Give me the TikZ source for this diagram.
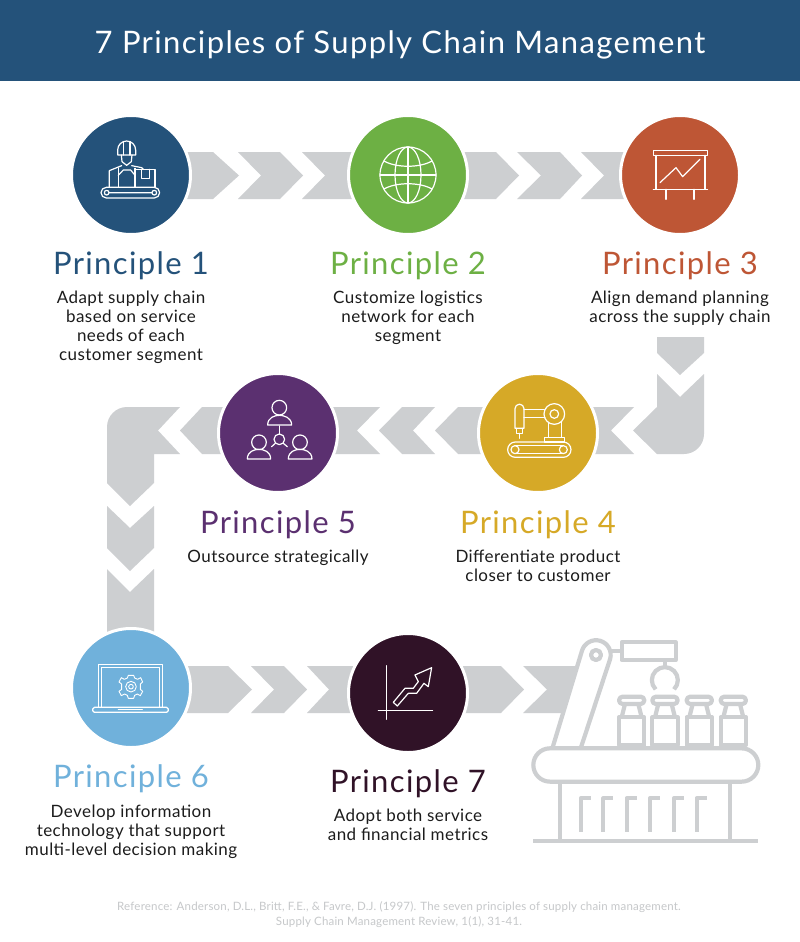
\documentclass[tikz,border=0pt]{standalone}
\usepackage{fontspec}
\setmainfont{Lato}
\newfontfamily\headfont[LetterSpace=4.4]{Lato}
\newfontfamily\bodyfont[LetterSpace=2.6]{Lato}
\newfontfamily\reffont[LetterSpace=1.7]{Lato}
\definecolor{cband}{HTML}{24527A}
\definecolor{cgreen}{HTML}{6DB044}
\definecolor{corange}{HTML}{BE5635}
\definecolor{cgold}{HTML}{D6A927}
\definecolor{cpurple}{HTML}{5B3070}
\definecolor{csky}{HTML}{70B1DB}
\definecolor{cdark}{HTML}{301227}
\definecolor{cgrey}{HTML}{CDCFD1}
\definecolor{cbody}{HTML}{1C1C1C}
\definecolor{cref}{HTML}{C6C8CA}
\tikzset{
  pcircle/.style={circle,draw=white,line width=3pt,minimum size=119pt,inner sep=0pt,outer sep=0pt},
  heading/.style={anchor=base,inner sep=0pt,font=\headfont\fontsize{31}{31}\selectfont},
  bodytext/.style={anchor=north,inner sep=0pt,align=center,text=cbody,font=\bodyfont\fontsize{17}{19}\selectfont,execute at begin node={\rule{0pt}{14pt}}},
  chevron/.style={fill=cgrey},
  iconline/.style={draw=white,line width=1.2pt,line join=round,line cap=round},
  robotline/.style={draw=cgrey,line width=4.2pt,line join=round}
}
\begin{document}
\begin{tikzpicture}[x=1pt,y=-1pt]
\useasboundingbox (0,0) rectangle (800,942);
\fill[white] (0,0) rectangle (800,942);
\fill[cband] (0,0) rectangle (800,81);
\node[text=white,inner sep=0pt,anchor=base,font=\headfont\fontsize{31}{31}\selectfont] (title) at (400,53) {7 Principles of Supply Chain Management};

% row 1 chevrons
\fill[chevron] (131,152) -- (213,152) -- (239,175.5) -- (213,199) -- (131,199) -- cycle;
\fill[chevron] (238,152) -- (280,152) -- (303,175.5) -- (280,199) -- (238,199) -- (261,175.5) -- cycle;
\fill[chevron] (302,152) -- (408,152) -- (408,199) -- (302,199) -- (325,175.5) -- cycle;
\fill[chevron] (408,152) -- (496,152) -- (519,175.5) -- (496,199) -- (408,199) -- cycle;
\fill[chevron] (517,152) -- (560,152) -- (582,175.5) -- (560,199) -- (517,199) -- (541,175.5) -- cycle;
\fill[chevron] (581,152) -- (680,152) -- (680,199) -- (581,199) -- (604,175.5) -- cycle;
% right turn
\fill[chevron] (657,337) -- (704,337) -- (704,353) -- (680,375) -- (657,353) -- cycle;
\fill[chevron] (657,374) -- (680,397) -- (704,374) -- (704,434) arc[start angle=0,end angle=90,radius=20] -- (657,454) -- (633,430.5) -- (657,407) -- cycle;
% row 2 chevrons
\fill[chevron] (538,407) -- (634,407) -- (611,430.5) -- (634,454) -- (538,454) -- cycle;
\fill[chevron] (435,430.5) -- (458,407) -- (538,407) -- (538,454) -- (458,454) -- cycle;
\fill[chevron] (379,430.5) -- (402,407) -- (435,407) -- (413,430.5) -- (435,454) -- (402,454) -- cycle;
\fill[chevron] (278,407) -- (380,407) -- (357,430.5) -- (380,454) -- (278,454) -- cycle;
\fill[chevron] (180,430.5) -- (202,407) -- (278,407) -- (278,454) -- (202,454) -- cycle;
% left turn
\fill[chevron] (180,407) -- (158,430.5) -- (180,454) -- (154,454) -- (154,483) -- (130,506) -- (107,483) -- (107,427) arc[start angle=180,end angle=270,radius=20] -- cycle;
\fill[chevron] (107,506) -- (130,528) -- (154,506) -- (154,548) -- (130,571) -- (107,548) -- cycle;
\fill[chevron] (107,569) -- (130,592) -- (154,569) -- (154,687) -- (107,687) -- cycle;
% row 3 chevrons
\fill[chevron] (131,666) -- (228,666) -- (252,689.5) -- (228,713) -- (131,713) -- cycle;
\fill[chevron] (251,666) -- (284,666) -- (307,689.5) -- (284,713) -- (251,713) -- (274,689.5) -- cycle;
\fill[chevron] (307,666) -- (408,666) -- (408,713) -- (307,713) -- (329,689.5) -- cycle;
\fill[chevron] (408,666) -- (501,666) -- (524,689.5) -- (501,713) -- (408,713) -- cycle;
\fill[chevron] (523,666) -- (578,666) -- (565,713) -- (523,713) -- (547,689.5) -- cycle;

% circles
\node[pcircle,fill=cband] (p1) at (131,175) {};
\node[pcircle,fill=cgreen] (p2) at (408,175) {};
\node[pcircle,fill=corange] (p3) at (680,175) {};
\node[pcircle,fill=cgold] (p4) at (538,433) {};
\node[pcircle,fill=cpurple] (p5) at (278,433) {};
\node[pcircle,fill=csky] (p6) at (131,688) {};
\node[pcircle,fill=cdark] (p7) at (408,693) {};

% icon 1: worker
\begin{scope}[shift={(60,100)},x=.3333pt,y=-.3333pt,iconline]
\draw (173,150) arc[start angle=180,end angle=360,radius=27] -- (227,165) -- (173,165) -- cycle;
\draw (190,165) -- (190,125) (210,165) -- (210,125);
\draw (184,165) -- (186,185) -- (200,196) -- (214,185) -- (216,165);
\draw (148,262) -- (148,212) -- (185,197) (215,197) -- (245,203) -- (250,208);
\draw (175,204) -- (175,262) (225,205) -- (225,262);
\draw (175,226) -- (190,210) -- (212,210) -- (225,226);
\draw (225,208) rectangle (285,262);
\draw (245,208) -- (245,235) -- (268,235) -- (268,208);
\draw (139,262) -- (283,262) arc[start angle=-90,end angle=90,radius=16] -- (139,294) arc[start angle=90,end angle=270,radius=16] -- cycle;
\draw (140,278) circle[radius=7] (283,278) circle[radius=7] (147,278) -- (276,278);
\end{scope}
% icon 2: globe
\begin{scope}[shift={(408,175)},iconline]
\draw (0,0) circle[radius=28];
\draw (0,0) ellipse[x radius=13,y radius=28];
\draw (0,-28) -- (0,28) (-28,0) -- (28,0);
\draw (-24,-14) .. controls (-12,-7) and (12,-7) .. (24,-14);
\draw (-24,14) .. controls (-12,7) and (12,7) .. (24,14);
\end{scope}
% icon 3: chart board
\begin{scope}[shift={(460,100)},x=.3333pt,y=-.3333pt,iconline]
\draw (580,152) rectangle (743,166);
\draw (588,166) -- (588,268) (735,166) -- (735,268);
\draw (580,268) -- (743,268);
\draw (618,268) -- (618,298) (702,268) -- (702,298);
\draw (600,248) -- (648,203) -- (668,230) -- (720,178);
\end{scope}
% icon 4: robot sewing
\begin{scope}[shift={(400,330)},x=.3333pt,y=-.3333pt,iconline]
\draw (345,295) -- (345,236) arc[start angle=180,end angle=360,radius=13.5] -- (372,295) -- cycle;
\draw (350,295) -- (350,310) -- (367,310) -- (367,295) (358,310) -- (358,325);
\draw (372,238) -- (433,238) (372,263) -- (435,263);
\draw (463,252) circle[radius=31] (463,252) circle[radius=13];
\draw (445,278) -- (445,322) (485,276) -- (485,322);
\draw (433,322) rectangle (493,336);
\draw (346,336) -- (490,336) arc[start angle=-90,end angle=90,radius=23] -- (346,382) arc[start angle=90,end angle=270,radius=23] -- cycle;
\draw (345,359) circle[radius=12] (490,359) circle[radius=12];
\draw (345,347) -- (490,347) (345,371) -- (490,371);
\end{scope}
% icon 5: people
\begin{scope}[shift={(100,330)},x=.3333pt,y=-.3333pt,iconline]
\draw (538,233) circle[radius=22];
\draw (503,285) .. controls (503,262) and (525,256) .. (538,256) .. controls (551,256) and (575,262) .. (575,285) -- cycle;
\draw (538,288) -- (538,312);
\draw (538,328) circle[radius=16];
\draw (515,350) -- (526,340) (562,350) -- (550,340);
\draw (477,337) circle[radius=22];
\draw (442,387) .. controls (442,364) and (464,358) .. (477,358) .. controls (490,358) and (512,364) .. (512,387) -- cycle;
\draw (600,337) circle[radius=22];
\draw (565,387) .. controls (565,364) and (587,358) .. (600,358) .. controls (613,358) and (636,364) .. (636,387) -- cycle;
\end{scope}
% icon 6: laptop
\begin{scope}[shift={(60,620)},x=.3333pt,y=-.3333pt,iconline]
\draw (115,262) -- (115,133) -- (308,133) -- (308,262);
\draw (125,262) -- (125,143) -- (298,143) -- (298,262);
\draw (103,262) -- (320,262) -- (325,267) -- (325,272) -- (320,277) -- (103,277) -- (98,272) -- (98,267) -- cycle;
\draw (175,268) -- (247,268);
\draw[line width=.9pt] (213,200) circle[radius=7] (213,200) circle[radius=16];
\draw[line width=.9pt] (205,166) -- (221,166) -- (224,174) -- (233,178) -- (242,173) -- (248,186) -- (241,192) -- (241,208) -- (248,214) -- (241,227) -- (232,222) -- (224,226) -- (221,235) -- (205,235) -- (202,226) -- (194,222) -- (184,227) -- (177,214) -- (185,208) -- (185,192) -- (177,186) -- (184,173) -- (193,178) -- (202,174) -- cycle;
\end{scope}
% icon 7: growth
\begin{scope}[shift={(60,620)},x=.3333pt,y=-.3333pt,iconline]
\draw (980,137) -- (980,298) (955,272) -- (1118,272);
\draw (1000,247) -- (1035,205) -- (1060,205) -- (1075,185) -- (1065,165) -- (1115,143) -- (1105,200) -- (1092,190) -- (1070,220) -- (1045,220) -- (1012,258) -- cycle;
\end{scope}

% robot illustration
\begin{scope}[shift={(510,630)},x=.3333pt,y=-.3333pt,robotline]
\draw[fill=white] (128,352) -- (216,62) arc[start angle=196.7,end angle=376.7,radius=44] -- (213,352);
\draw (258,75) circle[radius=15];
\draw (303,62) -- (335,62);
\draw (335,37) rectangle (497,90);
\draw (465,90) -- (465,112);
\draw (437,178) arc[start angle=135,end angle=405,radius=39];
\foreach \bx in {365,465,568,670}{
  \draw (\bx-27,200) -- (\bx+27,200) arc[start angle=-90,end angle=90,radius=11] -- (\bx-27,222) arc[start angle=90,end angle=270,radius=11] -- cycle;
  \draw (\bx-20,222) -- (\bx-30,262) (\bx+20,222) -- (\bx+30,262);
  \draw (\bx-38,262) rectangle (\bx+38,345);
}
\draw (120,355) -- (695,355) arc[start angle=-90,end angle=90,radius=50] -- (120,455) arc[start angle=90,end angle=270,radius=50] -- cycle;
\draw (150,455) -- (150,632) (660,455) -- (660,632);
\draw (70,634) -- (745,634);
\foreach \gx in {212,280,350,420,492,560}{
  \draw (\gx,605) -- (\gx,505) -- (\gx+30,505);
}
\end{scope}

% labels
\node[heading,text=cband] (h1) at (131,274) {Principle 1};
\node[heading,text=cgreen] (h2) at (408,274) {Principle 2};
\node[heading,text=corange] (h3) at (680,274) {Principle 3};
\node[heading,text=cgold] (h4) at (538,533) {Principle 4};
\node[heading,text=cpurple] (h5) at (278,533) {Principle 5};
\node[heading,text=csky] (h6) at (131,787) {Principle 6};
\node[heading,text=cdark] (h7) at (408,792) {Principle 7};
\node[bodytext] (b1) at (131,291) {Adapt supply chain\\based on service\\needs of each\\customer segment};
\node[bodytext] (b2) at (408,291) {Customize logistics\\network for each\\segment};
\node[bodytext] (b3) at (680,291) {Align demand planning\\across the supply chain};
\node[bodytext] (b4) at (538,550) {Differentiate product\\closer to customer};
\node[bodytext] (b5) at (278,548) {Outsource strategically};
\node[bodytext] (b6) at (131,805) {Develop information\\technology that support\\multi-level decision making};
\node[bodytext] (b7) at (408,809) {Adopt both service\\and financial metrics};
\node[anchor=north,inner sep=0pt,align=center,text=cref,font=\reffont\fontsize{11.5}{15}\selectfont,execute at begin node={\rule{0pt}{10pt}}] (ref) at (399,901) {Reference: Anderson, D.L., Britt, F.E., \& Favre, D.J. (1997). The seven principles of supply chain management.\\Supply Chain Management Review, 1(1), 31-41.};
\end{tikzpicture}
\end{document}
